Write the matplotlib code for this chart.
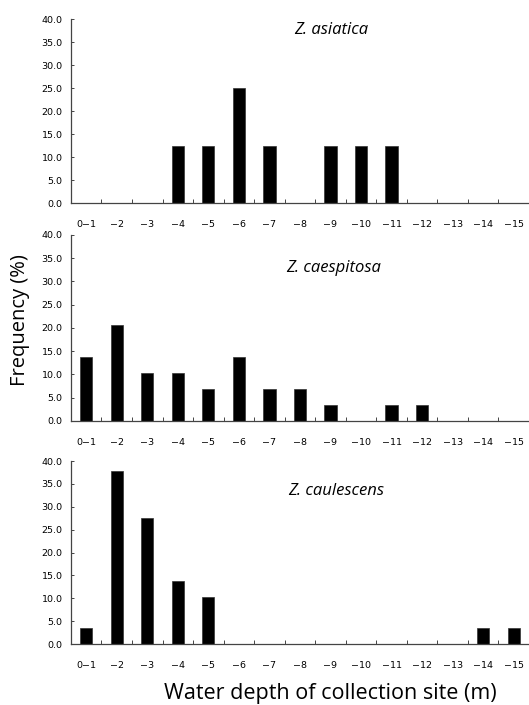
import numpy as np
import matplotlib.pyplot as plt
from matplotlib.ticker import FixedLocator

depth_labels = ["0\u22121"] + [f"\u2212{k}" for k in range(2, 16)]
species = ["Z. asiatica", "Z. caespitosa", "Z. caulescens"]
freq_asiatica = [0, 0, 0, 12.5, 12.5, 25.0, 12.5, 0, 12.5, 12.5, 12.5, 0, 0, 0, 0]
freq_caespitosa = [13.8, 20.7, 10.3, 10.3, 6.9, 13.8, 6.9, 6.9, 3.4, 0, 3.4, 3.4, 0, 0, 0]
freq_caulescens = [3.4, 37.9, 27.6, 13.8, 10.3, 0, 0, 0, 0, 0, 0, 0, 0, 3.4, 3.4]
yticks = [0, 5, 10, 15, 20, 25, 30, 35, 40]

tick_font = ["Liberation Sans Narrow", "DejaVu Sans"]
text_font = ["Open Sans", "DejaVu Sans"]

fig = plt.figure(figsize=(5.29, 7.05), dpi=100)

# axes boxes (left, bottom, width, height) in figure fractions
boxes = [
    (0.134, 0.712, 0.866, 0.261),
    (0.134, 0.403, 0.866, 0.264),
    (0.134, 0.0865, 0.866, 0.2595),
]
title_pos = [(0.627, 0.957), (0.630, 0.620), (0.635, 0.304)]
series = [freq_asiatica, freq_caespitosa, freq_caulescens]

x = np.arange(len(depth_labels))
for box, name, vals, tpos in zip(boxes, species, series, title_pos):
    ax = fig.add_axes(box)
    ax.bar(x, vals, width=0.4, color="black", edgecolor="#333333", linewidth=0.5)
    ax.set_xlim(-0.5, len(depth_labels) - 0.5)
    ax.set_ylim(0, 40)
    for s in ["top", "right"]:
        ax.spines[s].set_visible(False)
    for s in ["left", "bottom"]:
        ax.spines[s].set_color("#444444")
        ax.spines[s].set_linewidth(0.9)
    ax.set_yticks(yticks)
    ax.set_yticklabels([f"{v:.1f}" for v in yticks], family=tick_font, fontsize=6.8)
    ax.tick_params(axis="y", direction="in", length=2, width=0.7, color="#444444", pad=6)
    # category boundaries as small ticks, labels at centres
    ax.xaxis.set_major_locator(FixedLocator(x))
    ax.set_xticklabels(depth_labels, family=tick_font, fontsize=6.8)
    ax.tick_params(axis="x", which="major", length=0, pad=12)
    ax.xaxis.set_minor_locator(FixedLocator(np.arange(0.5, len(depth_labels) - 1, 1.0)))
    ax.tick_params(axis="x", which="minor", direction="in", length=3, width=0.7, color="#444444")
    fig.text(tpos[0], tpos[1], name, fontsize=12, style="italic", family=text_font,
             ha="center", va="center")

fig.text(0.038, 0.546, "Frequency (%)", rotation=90, fontsize=14.5, family=text_font,
         ha="center", va="center")
fig.text(0.624, 0.017, "Water depth of collection site (m)", fontsize=15.5, family=text_font,
         ha="center", va="center")

fig.savefig("out.png", dpi=100)
